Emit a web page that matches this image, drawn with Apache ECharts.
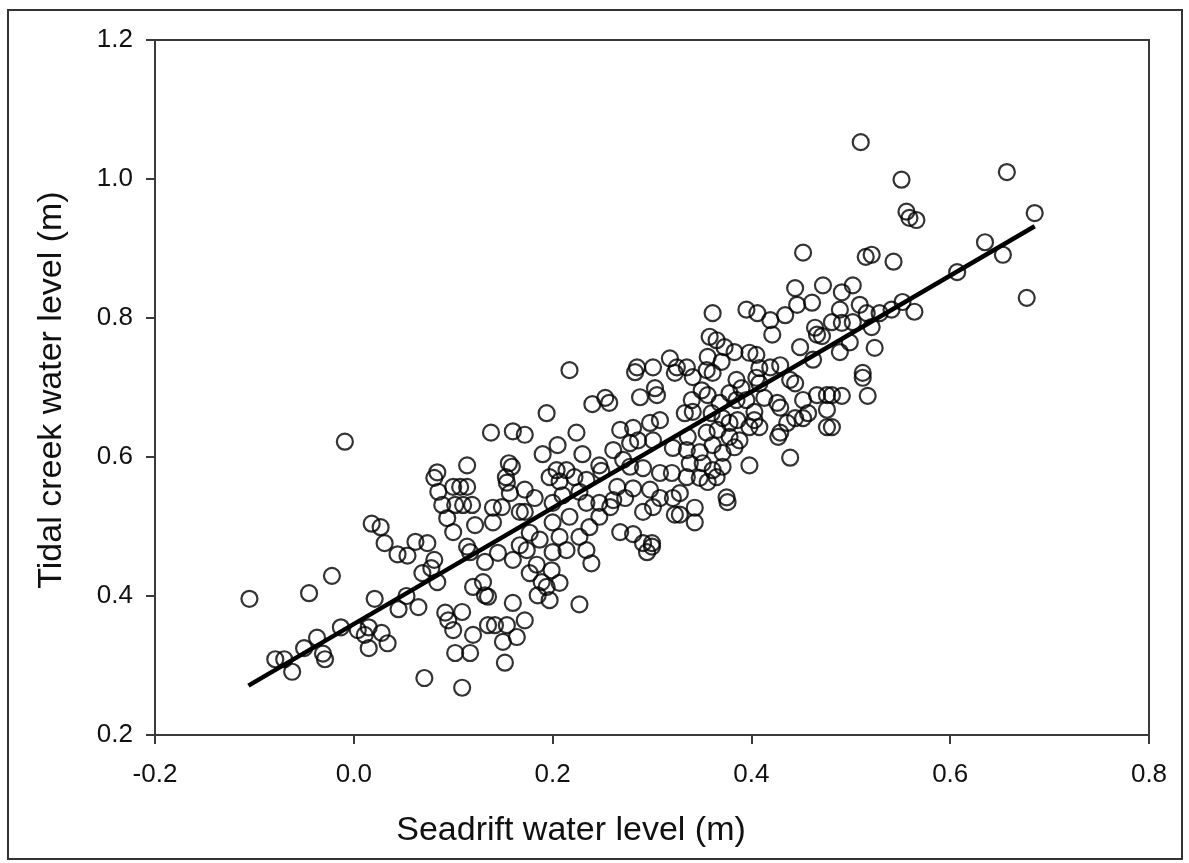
<!DOCTYPE html>
<html>
<head>
<meta charset="utf-8">
<script src="https://cdn.jsdelivr.net/npm/echarts@6/dist/echarts.min.js"></script>
<style>
html,body{margin:0;padding:0;background:#fff;}
#chart{width:1189px;height:863px;}
</style>
</head>
<body>
<div id="chart"></div>
<script>
// Seadrift water level (m) vs Tidal creek water level (m)
const lowLeftPoints = [
  [-0.105,0.396],[-0.079,0.309],[-0.070,0.309],[-0.062,0.291],[-0.050,0.325],[-0.037,0.340],
  [-0.031,0.317],[-0.029,0.309],[-0.013,0.355],[-0.022,0.429],[-0.045,0.404],[-0.009,0.622],
  [0.018,0.504],[0.027,0.499],[0.031,0.476],[0.044,0.460],[0.054,0.458],[0.062,0.478],
  [0.021,0.396],[0.053,0.400],[0.045,0.381],[0.065,0.384],[0.004,0.351],[0.011,0.344],
  [0.015,0.355],[0.028,0.347],[0.034,0.332],[0.015,0.325]
];
const leftPoints = [
  [0.138,0.635],[0.160,0.637],[0.114,0.588],[0.084,0.578],[0.081,0.570],[0.156,0.591],
  [0.159,0.586],[0.153,0.571],[0.085,0.550],[0.100,0.557],[0.107,0.557],[0.114,0.557],
  [0.154,0.563],[0.157,0.548],[0.089,0.531],[0.102,0.531],[0.110,0.531],[0.119,0.531],
  [0.140,0.527],[0.149,0.528],[0.217,0.725],
  [0.094,0.512],[0.100,0.492],[0.122,0.502],[0.140,0.506],[0.074,0.476],[0.114,0.471],
  [0.117,0.463],[0.132,0.449],[0.145,0.462],[0.160,0.452],[0.081,0.452],[0.078,0.440],
  [0.084,0.420],[0.069,0.433],[0.120,0.413],[0.130,0.420],[0.132,0.401],[0.135,0.399],
  [0.160,0.390],[0.092,0.376],[0.095,0.365],[0.109,0.377],[0.100,0.351],[0.120,0.344],
  [0.135,0.358],[0.142,0.358],[0.154,0.358],[0.150,0.334],[0.164,0.341],[0.102,0.318],
  [0.117,0.318],[0.152,0.304],[0.071,0.282],[0.109,0.268],[0.167,0.521]
];
const lowMidPoints = [
  [0.227,0.388],[0.174,0.466],[0.177,0.433],[0.184,0.445],[0.189,0.420],[0.194,0.413],
  [0.185,0.401],[0.197,0.394],[0.207,0.419],[0.199,0.437],[0.200,0.463],[0.214,0.466],
  [0.234,0.466],[0.239,0.447],[0.172,0.365],[0.167,0.473],[0.300,0.471],[0.295,0.463]
];
const midPoints = [
  [0.194,0.663],[0.240,0.676],[0.253,0.685],[0.257,0.678],[0.288,0.686],[0.303,0.699],[0.305,0.689],
  [0.172,0.632],[0.224,0.635],[0.205,0.617],[0.190,0.604],[0.230,0.604],
  [0.268,0.639],[0.281,0.642],[0.298,0.649],[0.308,0.653],
  [0.261,0.610],[0.247,0.588],[0.278,0.620],[0.286,0.624],[0.301,0.624],[0.321,0.613],
  [0.197,0.571],[0.204,0.581],[0.214,0.581],[0.222,0.571],[0.234,0.567],
  [0.271,0.596],[0.278,0.586],[0.291,0.584],[0.308,0.577],[0.320,0.577],
  [0.172,0.553],[0.182,0.541],[0.200,0.534],[0.210,0.545],[0.227,0.550],[0.234,0.534],
  [0.265,0.557],[0.273,0.541],[0.281,0.555],[0.298,0.553],[0.308,0.541],[0.321,0.541],
  [0.258,0.528],[0.291,0.521],[0.301,0.528],[0.323,0.517],
  [0.172,0.521],[0.200,0.506],[0.217,0.514],[0.237,0.499],[0.247,0.514],
  [0.268,0.492],[0.281,0.489],[0.177,0.491],[0.187,0.481],[0.207,0.485],[0.227,0.485],
  [0.291,0.476],[0.300,0.476],[0.249,0.580],[0.207,0.565],[0.247,0.534],[0.261,0.538],
  [0.318,0.742],[0.325,0.729],[0.285,0.729],[0.283,0.722],[0.301,0.729],[0.323,0.721]
];
const upperMidPoints = [
  [0.361,0.807],[0.395,0.812],[0.406,0.807],[0.419,0.797],[0.434,0.804],[0.446,0.819],[0.444,0.843],
  [0.358,0.773],[0.365,0.768],[0.421,0.776],[0.466,0.776],[0.449,0.758],[0.373,0.758],[0.383,0.751],
  [0.398,0.750],[0.405,0.747],[0.356,0.744],[0.462,0.740],[0.370,0.737],[0.335,0.729],[0.341,0.715],
  [0.355,0.725],[0.361,0.721],[0.385,0.711],[0.405,0.714],[0.419,0.729],[0.429,0.732],[0.439,0.711],
  [0.444,0.706],[0.466,0.689],[0.476,0.689],[0.350,0.696],[0.356,0.689],[0.378,0.692],[0.395,0.682],
  [0.413,0.685],[0.426,0.678],[0.429,0.671],[0.452,0.682],[0.457,0.663],[0.476,0.668],[0.333,0.663],
  [0.341,0.665],[0.360,0.663],[0.371,0.656],[0.378,0.649],[0.386,0.653],[0.403,0.665],[0.403,0.653],
  [0.408,0.643],[0.398,0.643],[0.444,0.656],[0.452,0.656],[0.436,0.649],[0.476,0.643],[0.336,0.629],
  [0.355,0.635],[0.366,0.639],[0.378,0.629],[0.388,0.624],[0.427,0.629],[0.429,0.635],[0.335,0.610],
  [0.348,0.607],[0.361,0.617],[0.371,0.606],[0.383,0.614],[0.439,0.599],[0.398,0.588],[0.338,0.591],
  [0.351,0.591],[0.361,0.581],[0.365,0.571],[0.335,0.571],[0.348,0.570],[0.375,0.542],
  [0.408,0.728],[0.390,0.699],[0.408,0.706],[0.340,0.682],[0.368,0.678],[0.385,0.682],[0.371,0.586],
  [0.356,0.564],[0.328,0.548],[0.471,0.774],
  [0.343,0.527],[0.328,0.517],[0.343,0.506],[0.376,0.535]
];
const rightPoints = [
  [0.524,0.757],[0.489,0.751],[0.499,0.765],[0.512,0.721],[0.512,0.714],[0.517,0.688],
  [0.481,0.689],[0.491,0.688],[0.481,0.643],
  [0.510,1.053],[0.551,0.999],[0.657,1.010],[0.685,0.951],[0.556,0.953],[0.559,0.944],
  [0.566,0.941],[0.452,0.894],[0.515,0.888],[0.521,0.891],[0.543,0.881],[0.635,0.909],
  [0.653,0.891],[0.607,0.866],[0.677,0.829],[0.472,0.847],[0.491,0.837],[0.502,0.847],
  [0.461,0.822],[0.489,0.812],[0.509,0.819],[0.516,0.807],[0.529,0.807],[0.541,0.812],
  [0.552,0.823],[0.564,0.809],[0.481,0.794],[0.491,0.793],[0.502,0.794],[0.464,0.786],
  [0.521,0.787]
];
const fitLineX = [-0.106, 0.685];
const fitLineY = [0.271, 0.932];
const xTicks = [-0.2, 0.0, 0.2, 0.4, 0.6, 0.8];
const yTicks = [0.2, 0.4, 0.6, 0.8, 1.0, 1.2];
const xTitle = 'Seadrift water level (m)';
const yTitle = 'Tidal creek water level (m)';

const observations = [].concat(lowLeftPoints, leftPoints, lowMidPoints, midPoints, upperMidPoints, rightPoints);
const fitLine = fitLineX.map((x, i) => [x, fitLineY[i]]);

const chart = echarts.init(document.getElementById('chart'), null, {renderer: 'canvas'});
const FONT = '"Liberation Sans", Arial, sans-serif';
const axisColor = '#3a3a3a';
chart.setOption({
  animation: false,
  backgroundColor: '#fff',
  grid: {left: 155, right: 40, top: 40, bottom: 128, show: true, borderColor: axisColor, borderWidth: 2, containLabel: false},
  xAxis: {
    type: 'value', min: xTicks[0], max: xTicks[xTicks.length - 1], interval: 0.2,
    axisLine: {show: true, onZero: false, lineStyle: {color: axisColor, width: 2}},
    axisTick: {show: true, inside: false, length: 9, lineStyle: {color: axisColor, width: 2}},
    splitLine: {show: false},
    axisLabel: {color: '#111', fontSize: 26, fontFamily: FONT, margin: 27, formatter: v => v.toFixed(1)}
  },
  yAxis: {
    type: 'value', min: yTicks[0], max: yTicks[yTicks.length - 1], interval: 0.2,
    axisLine: {show: true, onZero: false, lineStyle: {color: axisColor, width: 2}},
    axisTick: {show: true, inside: false, length: 9, lineStyle: {color: axisColor, width: 2}},
    splitLine: {show: false},
    axisLabel: {color: '#111', fontSize: 26, fontFamily: FONT, margin: 22, formatter: v => v.toFixed(1)}
  },
  series: [
    {
      type: 'scatter', data: observations, symbol: 'circle', symbolSize: 16, z: 2,
      itemStyle: {color: 'rgba(0,0,0,0)', borderColor: '#000', borderWidth: 2.2}
    },
    {
      type: 'line', data: fitLine, showSymbol: false, symbol: 'none', z: 3,
      lineStyle: {color: '#000', width: 4.5}
    }
  ],
  graphic: [
    {type: 'rect', shape: {x: 8, y: 10, width: 1174, height: 849}, style: {fill: 'none', stroke: '#333', lineWidth: 2}, silent: true},
    {type: 'text', x: 571, y: 831, style: {text: xTitle, font: '34px ' + FONT, fill: '#111', textAlign: 'center', textVerticalAlign: 'middle'}},
    {type: 'text', x: 52, y: 390, rotation: Math.PI / 2, style: {text: yTitle, font: '34px ' + FONT, fill: '#111', textAlign: 'center', textVerticalAlign: 'middle'}}
  ]
});
</script>
</body>
</html>
